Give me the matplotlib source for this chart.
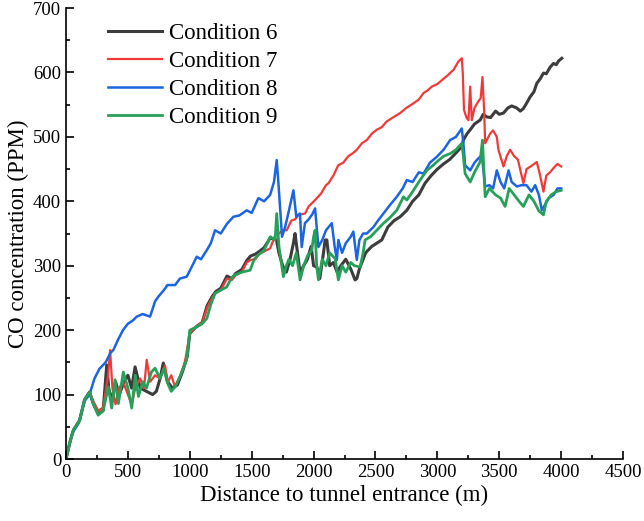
import matplotlib.pyplot as plt
from matplotlib.ticker import MultipleLocator

plt.rcParams["font.family"] = ["Liberation Serif", "DejaVu Serif"]

# Condition 6 (dark grey)
x6 = [0, 30, 60, 110, 150, 190, 220, 260, 300, 329, 345, 370, 400, 430, 470, 500, 530, 558,
      600, 650, 700, 730, 760, 786, 820, 860, 900, 940, 980, 1000, 1050, 1100, 1140, 1180,
      1210, 1250, 1300, 1340, 1370, 1420, 1460, 1490, 1530, 1560, 1600, 1650, 1700, 1720,
      1750, 1780, 1810, 1837, 1850, 1870, 1890, 1920, 1950, 1980, 2000, 2026, 2050, 2080,
      2093, 2107, 2130, 2160, 2190, 2220, 2260, 2300, 2335, 2349, 2370, 2420, 2470, 2551,
      2600, 2650, 2699, 2753, 2800, 2850, 2900, 2950, 3000, 3050, 3100, 3150, 3197, 3210,
      3240, 3265, 3300, 3345, 3370, 3399, 3430, 3470, 3500, 3534, 3570, 3600, 3640, 3670,
      3695, 3720, 3749, 3780, 3803, 3830, 3857, 3880, 3910, 3938, 3960, 3980, 4005]
y6 = [0, 25, 45, 60, 92, 104, 86, 70, 75, 146, 110, 90, 120, 100, 120, 130, 110, 143,
      110, 105, 100, 105, 125, 149, 120, 110, 115, 135, 160, 195, 205, 212, 238, 252,
      260, 265, 284, 280, 288, 294, 308, 315, 318, 322, 328, 343, 340, 320,
      300, 290, 310, 335, 350, 320, 290, 300, 310, 330, 300, 298, 280, 320,
      340, 340, 300, 305, 290, 300, 310, 295, 278, 280, 295, 320, 330, 340,
      360, 370, 376, 386, 400, 410, 428, 440, 450, 458, 465, 475, 485, 495,
      505, 511, 520, 526, 535, 531, 530, 540, 535, 537, 545, 548, 545, 540,
      544, 552, 562, 570, 583, 590, 599, 598, 608, 614, 612, 618, 622]

# Condition 7 (red)
x7 = [0, 30, 60, 110, 150, 190, 220, 260, 300, 340, 356, 375, 400, 430, 460, 500, 530, 560,
      600, 630, 652, 680, 720, 760, 800, 820, 850, 880, 920, 960, 1000, 1050, 1100, 1140,
      1180, 1210, 1250, 1300, 1340, 1370, 1420, 1460, 1490, 1530, 1560, 1600, 1649, 1702,
      1720, 1750, 1783, 1820, 1850, 1877, 1931, 1960, 2012, 2060, 2100, 2120, 2160, 2199,
      2240, 2280, 2320, 2349, 2390, 2430, 2470, 2510, 2550, 2591, 2640, 2699, 2750, 2806,
      2850, 2888, 2920, 2955, 3000, 3036, 3080, 3130, 3170, 3197, 3205, 3215, 3235, 3251,
      3265, 3278, 3300, 3330, 3350, 3364, 3378, 3386, 3426, 3450, 3480, 3493, 3534, 3560,
      3588, 3620, 3650, 3695, 3720, 3760, 3803, 3830, 3857, 3880, 3910, 3940, 3970, 4000]
y7 = [0, 25, 45, 60, 92, 104, 90, 75, 80, 130, 169, 110, 85, 110, 120, 100, 85, 110,
      125, 110, 154, 120, 130, 125, 145, 118, 130, 112, 128, 150, 195, 205, 212, 235,
      250, 258, 262, 280, 278, 285, 290, 305, 309, 310, 318, 322, 327, 353,
      350, 355, 355, 370, 372, 379, 381, 392, 402, 412, 425, 428, 440, 456,
      460, 470, 475, 480, 490, 495, 505, 511, 515, 524, 530, 537, 545, 552,
      558, 568, 572, 578, 582, 588, 595, 604, 617, 622, 600, 542, 530, 526,
      578, 526, 545, 555, 560, 593, 540, 490, 505, 510, 500, 480, 454, 470,
      480, 470, 465, 428, 450, 455, 461, 440, 415, 440, 445, 452, 458, 454]

# Condition 8 (blue)
x8 = [0, 50, 100, 150, 190, 230, 270, 320, 360, 382, 420, 460, 500, 540, 571, 620, 679,
      720, 746, 790, 820, 881, 920, 975, 1020, 1056, 1090, 1137, 1170, 1204, 1250, 1300,
      1352, 1400, 1460, 1500, 1554, 1600, 1649, 1680, 1702, 1716, 1745, 1770, 1800, 1837,
      1860, 1890, 1904, 1930, 1960, 1990, 2012, 2039, 2070, 2100, 2147, 2170, 2188, 2200,
      2230, 2260, 2300, 2321, 2349, 2370, 2400, 2430, 2483, 2520, 2564, 2620, 2672, 2720,
      2753, 2800, 2850, 2888, 2940, 2995, 3050, 3103, 3150, 3197, 3210, 3224, 3265, 3300,
      3318, 3359, 3386, 3420, 3450, 3480, 3510, 3540, 3575, 3600, 3642, 3680, 3720, 3760,
      3790, 3820, 3844, 3870, 3900, 3940, 3970, 4000]
y8 = [0, 40, 55, 90, 100, 125, 140, 150, 165, 169, 185, 200, 210, 215, 221, 225, 221,
      245, 252, 262, 270, 270, 280, 283, 300, 314, 310, 324, 335, 355, 350, 365,
      376, 378, 386, 382, 405, 400, 410, 430, 464, 428, 345, 360, 385, 417,
      376, 381, 329, 366, 372, 380, 389, 329, 340, 355, 366, 330, 309, 340,
      320, 335, 345, 353, 309, 340, 350, 350, 360, 370, 381, 395, 407, 420,
      433, 430, 445, 443, 460, 469, 480, 495, 500, 513, 490, 456, 448, 460,
      464, 472, 423, 425, 420, 448, 430, 420, 448, 430, 423, 425, 425, 415,
      425, 410, 386, 395, 405, 410, 420, 420]

# Condition 9 (green)
x9 = [0, 30, 60, 110, 150, 190, 220, 260, 300, 342, 369, 396, 423, 463, 500, 531, 560,
      585, 620, 650, 690, 719, 760, 790, 820, 850, 881, 921, 975, 1000, 1056, 1100, 1137,
      1170, 1204, 1250, 1298, 1340, 1366, 1420, 1487, 1520, 1554, 1600, 1650, 1689, 1702,
      1720, 1756, 1780, 1800, 1830, 1860, 1891, 1920, 1950, 1985, 2000, 2012, 2025, 2039,
      2070, 2100, 2130, 2174, 2200, 2230, 2260, 2300, 2330, 2376, 2400, 2416, 2460, 2510,
      2560, 2618, 2672, 2726, 2753, 2800, 2850, 2915, 2960, 3000, 3050, 3103, 3150, 3197,
      3210, 3224, 3265, 3300, 3345, 3364, 3386, 3420, 3470, 3510, 3547, 3580, 3620, 3660,
      3695, 3740, 3780, 3820, 3857, 3880, 3920, 3960, 4000]
y9 = [0, 25, 45, 60, 92, 104, 86, 68, 75, 112, 79, 123, 86, 135, 110, 79, 130,
      97, 120, 110, 135, 141, 125, 140, 118, 105, 112, 128, 154, 200, 205, 210, 218,
      240, 257, 262, 267, 282, 286, 290, 293, 310, 317, 324, 345, 340, 381,
      330, 283, 300, 310, 300, 320, 278, 300, 315, 324, 345, 355, 300, 278,
      310, 300, 320, 311, 278, 300, 290, 305, 300, 298, 320, 340, 345, 355,
      365, 375, 386, 407, 402, 415, 430, 448, 455, 462, 470, 474, 480, 490,
      470, 443, 430, 445, 461, 495, 407, 420, 410, 405, 392, 420, 410, 400,
      392, 410, 400, 385, 379, 400, 410, 415, 417]

labels = ["Condition 6", "Condition 7", "Condition 8", "Condition 9"]
colors = ["#3c3c3c", "#f03a3a", "#1c64e0", "#27a05a"]
widths = [2.2, 1.6, 1.8, 2.0]

fig = plt.figure(figsize=(6.44, 5.21), dpi=100)
ax = fig.add_axes([0.1025, 0.119, 0.865, 0.8656])

series = [(x6, y6), (x7, y7), (x8, y8), (x9, y9)]
for (xs, ys), lab, c, lw in zip(series, labels, colors, widths):
    ax.plot(xs, ys, color=c, lw=lw, label=lab)

ax.set_xlim(0, 4500)
ax.set_ylim(0, 700)
ax.xaxis.set_major_locator(MultipleLocator(500))
ax.xaxis.set_minor_locator(MultipleLocator(250))
ax.yaxis.set_major_locator(MultipleLocator(100))
ax.yaxis.set_minor_locator(MultipleLocator(50))
ax.tick_params(which="both", direction="in", labelsize=13.5, width=1.2)
ax.tick_params(which="major", length=6)
ax.tick_params(which="minor", length=3)
ax.spines["top"].set_visible(False)
ax.spines["right"].set_visible(False)
ax.spines["left"].set_linewidth(1.2)
ax.spines["bottom"].set_linewidth(1.2)

ax.set_xlabel("Distance to tunnel entrance (m)", fontsize=16.5, labelpad=3)
ax.set_ylabel("CO concentration (PPM)", fontsize=16.5, labelpad=3)

# legend sits in the upper left, no frame
ax.legend(loc="upper left", bbox_to_anchor=(0.038, 1.012), frameon=False, fontsize=16.5,
          handlelength=2.35, handletextpad=0.3, labelspacing=0.3)

fig.savefig("out.png", dpi=100)
